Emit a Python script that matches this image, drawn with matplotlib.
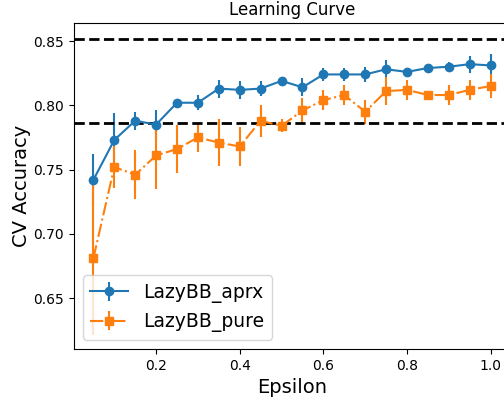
import numpy as np
import matplotlib
matplotlib.use("Agg")
import matplotlib.pyplot as plt

epsilon = [0.05, 0.1, 0.15, 0.2, 0.25, 0.3, 0.35, 0.4, 0.45, 0.5,
           0.55, 0.6, 0.65, 0.7, 0.75, 0.8, 0.85, 0.9, 0.95, 1.0]

aprx_mean = [0.742, 0.773, 0.788, 0.785, 0.802, 0.802, 0.813, 0.812, 0.813, 0.819,
             0.814, 0.824, 0.824, 0.824, 0.828, 0.826, 0.829, 0.830, 0.832, 0.831]
aprx_std = [0.020, 0.021, 0.007, 0.011, 0.002, 0.006, 0.007, 0.007, 0.006, 0.002,
            0.007, 0.005, 0.005, 0.006, 0.0075, 0.002, 0.002, 0.004, 0.0065, 0.009]

pure_mean = [0.681, 0.752, 0.746, 0.761, 0.766, 0.775, 0.771, 0.768, 0.788, 0.784,
             0.796, 0.804, 0.808, 0.795, 0.811, 0.812, 0.808, 0.808, 0.812, 0.815]
pure_std = [0.060, 0.016, 0.019, 0.026, 0.0185, 0.011, 0.018, 0.015, 0.0125, 0.005,
            0.0095, 0.008, 0.008, 0.0095, 0.011, 0.008, 0.003, 0.0075, 0.008, 0.0095]

upper_ref = 0.8515
lower_ref = 0.786

fig = plt.figure(figsize=(5.04, 4), dpi=100)
# axes runs a little past the right edge, like the cropped original
ax = fig.add_axes([73.5 / 504, 51 / 400, 437 / 504, 326 / 400])

ax.errorbar(epsilon, aprx_mean, yerr=aprx_std, marker='o', linestyle='-', label='LazyBB_aprx')
ax.errorbar(epsilon, pure_mean, yerr=pure_std, marker='s', linestyle='-.', label='LazyBB_pure')

ax.axhline(upper_ref, color='black', linestyle='--', linewidth=2)
ax.axhline(lower_ref, color='black', linestyle='--', linewidth=2)

ax.set_xlim(0.0025, 1.0475)
ax.set_ylim(0.6105, 0.864)
ax.set_xticks([0.2, 0.4, 0.6, 0.8, 1.0])
ax.set_yticks([0.65, 0.70, 0.75, 0.80, 0.85])

ax.set_title("Learning Curve")
ax.set_xlabel("Epsilon", fontsize=14)
ax.set_ylabel("CV Accuracy", fontsize=14, labelpad=1.5)
ax.legend(loc='lower left', fontsize=13.5)

fig.savefig("out.png", dpi=100)
